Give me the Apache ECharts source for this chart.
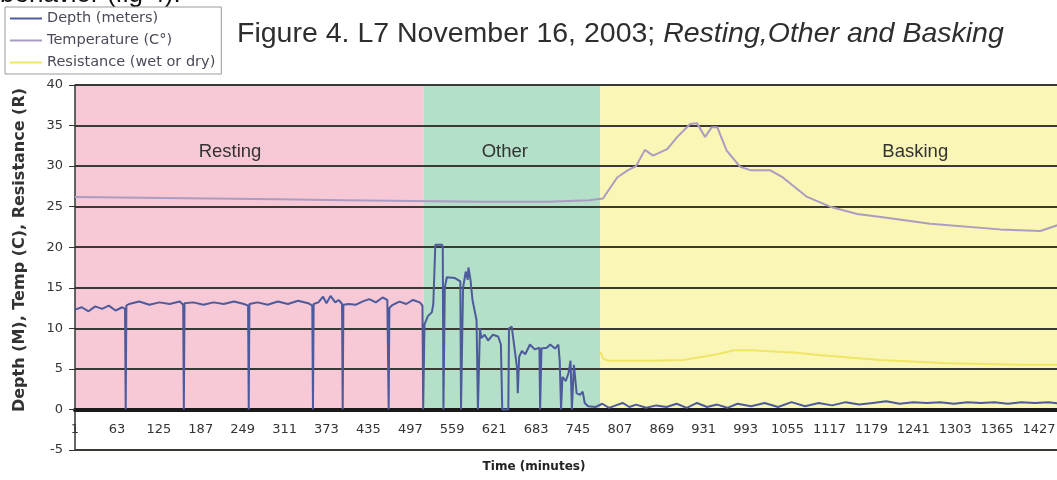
<!DOCTYPE html>
<html><head><meta charset="utf-8">
<script src="https://cdn.jsdelivr.net/npm/echarts@6/dist/echarts.min.js"></script>
<style>html,body{margin:0;padding:0;background:#fff}#c{width:1057px;height:480px}</style>
</head><body><div id="c"></div>
<script>
// x values are minute indices (minute - 1)
const tickLabels = ['1','63','125','187','249','311','373','435','497','559','621','683','745','807','869','931','993','1055','1117','1179','1241','1303','1365','1427'];
const seriesNames = ['Depth (meters)','Temperature (C°)','Resistance (wet or dry)'];
const bandNames = ['Resting','Other','Basking'];
const bandStarts = [0, 516, 777];
const bandEnds = [516, 777, 1460];

const depthPoints = [
 [0,12.3],[10,12.6],[20,12.1],[30,12.7],[40,12.4],[50,12.8],[60,12.2],[70,12.6],[74,12.4],[75,0],[76,12.8],
 [80,13.0],[95,13.3],[110,12.9],[125,13.2],[140,13.0],[155,13.3],[160,12.9],[161,0],[162,13.1],
 [175,13.2],[190,12.9],[205,13.2],[220,13.0],[235,13.3],[250,13.0],[256,12.8],[257,0],[258,13.0],
 [270,13.2],[285,12.9],[300,13.3],[315,13.0],[330,13.4],[345,13.1],[351,12.8],[352,0],[353,13.0],
 [360,13.2],[367,13.9],[372,13.1],[378,14.0],[385,13.2],[390,13.5],[395,13.0],[396,0],[397,12.9],
 [405,13.0],[415,12.9],[425,13.3],[435,13.6],[445,13.2],[455,13.8],[462,13.5],[463,13.3],[464,0],[465,12.5],
 [470,12.9],[480,13.3],[490,13.0],[500,13.5],[510,13.2],[514,12.8],[515,0],
 [517,10.5],[522,11.5],[528,12.0],[530,13],[533,20.3],[543,20.3],[544,20],[545,0],
 [547,15],[550,16.3],[562,16.2],[570,15.8],[571,0],[574,15],[578,17],[581,16],[582,17.5],[585,16],[588,13.5],[594,11],[596,0],
 [599,10],[601,8.8],[606,9.2],[611,8.5],[618,9.2],[626,9.0],[630,8],[632,0],[641,0],[642,10],
 [646,10.2],[651,7],[654,5],[655,2],[657,6.5],[661,7.2],[666,6.8],[673,8],[680,7.4],[687,7.6],[688,0],
 [690,7.5],[698,7.6],[703,8],[710,7.5],[715,8],[717,6],[719,0],[721,4],[726,3.5],[730,4.5],[733,6],[735,0],
 [738,5.5],[742,2],[747,1.8],[751,2.2],[754,0.8],[759,0.4],
 [770,0.3],[780,0.7],[790,0.2],[800,0.5],[810,0.8],[820,0.3],[830,0.6],[845,0.2],[860,0.5],[875,0.3],
 [890,0.7],[905,0.2],[920,0.8],[935,0.3],[950,0.6],[965,0.2],[980,0.7],[1000,0.4],[1020,0.8],[1040,0.3],
 [1060,0.9],[1080,0.4],[1100,0.8],[1120,0.5],[1140,0.9],[1160,0.6],[1180,0.8],[1200,1.0],[1220,0.7],
 [1240,0.9],[1260,0.8],[1280,0.9],[1300,0.7],[1320,0.9],[1340,0.8],[1360,0.9],[1380,0.7],[1400,0.9],
 [1420,0.8],[1440,0.9],[1460,0.7]
];
const tempPoints = [
 [0,26.2],[100,26.1],[200,26.0],[300,25.9],[400,25.8],[500,25.7],[600,25.6],[700,25.6],[760,25.8],
 [781,26.0],[802,28.6],[818,29.5],[830,30],[843,32.0],[855,31.3],[876,32.1],[891,33.6],[910,35.2],[920,35.3],
 [932,33.6],[942,34.8],[950,34.8],[964,31.9],[984,29.9],[999,29.5],[1028,29.5],[1047,28.6],[1083,26.2],
 [1117,25.0],[1157,24.1],[1195,23.7],[1265,22.9],[1368,22.2],[1428,22.0],[1460,22.9]
];
const resistPoints = [
 [777,7.1],[782,6.2],[790,6.0],[850,6.0],[900,6.1],[950,6.8],[975,7.3],[1000,7.3],[1068,7.0],
 [1100,6.7],[1191,6.1],[1290,5.7],[1400,5.5],[1460,5.5]
];

const chart = echarts.init(document.getElementById('c'), null, {renderer:'canvas'});
const bandColors = ['#f7c9d6','#b4dfc9','#f9f6b6'];
const bandLabelPos = [[155,67],[81,67],[315,67]];

chart.setOption({
  animation:false,
  backgroundColor:'#fff',
  title:{
    text:'{a|Figure 4. L7 November 16, 2003; }{b|Resting,Other and Basking}',
    left:232, top:15,
    textStyle:{fontWeight:'normal',rich:{
      a:{fontFamily:'Liberation Sans',fontSize:28.5,fontWeight:'normal',color:'#2e2e2e'},
      b:{fontFamily:'Liberation Sans',fontSize:28.5,fontWeight:'normal',color:'#2e2e2e',fontStyle:'italic'}
    }}
  },
  legend:{
    data:seriesNames, orient:'vertical', left:5, top:7,
    padding:[4,6,4,5], itemGap:7, itemWidth:32, itemHeight:2, icon:'rect',
    borderColor:'#9a9a9a', borderWidth:1,
    textStyle:{fontFamily:'DejaVu Sans',fontSize:14.5,color:'#4a4a5a'}
  },
  grid:{left:75, top:85, width:987, height:365, containLabel:false, outerBoundsMode:'none'},
  xAxis:{
    type:'value', min:0, max:1460, interval:62, z:3,
    axisLine:{show:true,onZero:true,lineStyle:{color:'#1a1a1a',width:4}},
    axisTick:{show:false},
    splitLine:{show:false},
    axisLabel:{margin:-27,fontFamily:'DejaVu Sans',fontSize:13,color:'#333',hideOverlap:false,
      formatter:function(v){const k=v/62;return Number.isInteger(k)&&tickLabels[k]!==undefined?tickLabels[k]:'';}}
  },
  yAxis:{
    type:'value', min:-5, max:40, interval:5, z:3,
    axisLine:{show:true,lineStyle:{color:'#333',width:1.5}},
    axisTick:{show:true,inside:false,length:6,lineStyle:{color:'#333'}},
    splitLine:{show:true,lineStyle:{color:'#3a3a34',width:2}},
    axisLabel:{margin:12,fontFamily:'DejaVu Sans',fontSize:13,color:'#333'}
  },
  graphic:[
    {type:'text',left:0,top:-18,style:{text:'behavior (fig 4).',font:'26px "Liberation Sans"',fill:'#111'}},
    {type:'text',x:20,y:250,rotation:Math.PI/2,style:{text:'Depth (M), Temp (C), Resistance (R)',font:'bold 16px "DejaVu Sans"',fill:'#333',align:'center',verticalAlign:'middle'}},
    {type:'text',x:534,y:467,style:{text:'Time (minutes)',font:'bold 12px "DejaVu Sans"',fill:'#222',align:'center',verticalAlign:'middle'}}
  ],
  series:[
    {name:'bands',type:'line',data:[],z:1,silent:true,
      markArea:{silent:true,
        data:bandNames.map((n,i)=>[
          {name:n,xAxis:bandStarts[i],yAxis:0,itemStyle:{color:bandColors[i]},
           label:{position:bandLabelPos[i],align:'center',verticalAlign:'middle'}},
          {xAxis:bandEnds[i],yAxis:40}
        ]),
        label:{show:true,fontFamily:'Liberation Sans',fontSize:18.5,color:'#333'}
      }
    },
    {name:seriesNames[2],type:'line',data:resistPoints,showSymbol:false,symbol:'none',z:4,
      lineStyle:{color:'#efe665',width:2},itemStyle:{color:'#efe665'}},
    {name:seriesNames[1],type:'line',data:tempPoints,showSymbol:false,symbol:'none',z:5,
      lineStyle:{color:'#ab9cc2',width:2},itemStyle:{color:'#ab9cc2'}},
    {name:seriesNames[0],type:'line',data:depthPoints,showSymbol:false,symbol:'none',z:6,
      lineStyle:{color:'#4d5a9c',width:2},itemStyle:{color:'#4d5a9c'}}
  ]
});
</script></body></html>
